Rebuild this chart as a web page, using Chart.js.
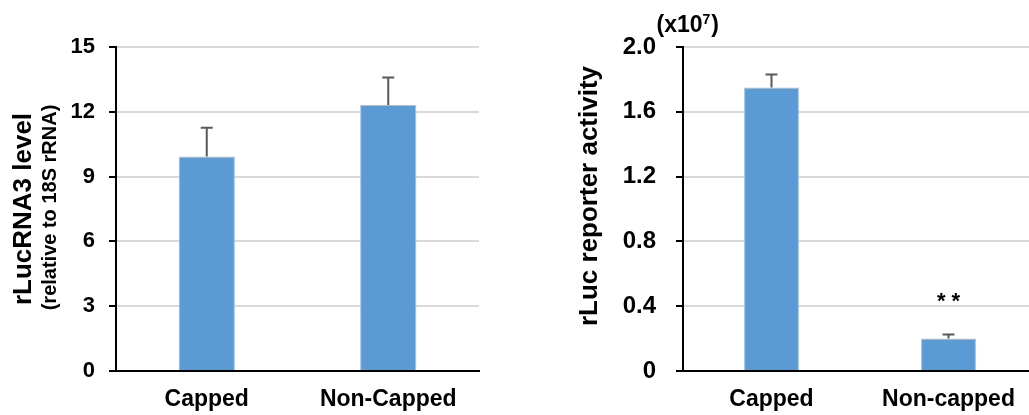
<!DOCTYPE html>
<html lang="en">
<head>
<meta charset="UTF-8">
<title>rLuc charts</title>
<script src="https://cdn.jsdelivr.net/npm/chart.js@4.4.0/dist/chart.umd.min.js"></script>
<style>
  body { margin: 0; background: #fff; }
  #wrap { position: relative; width: 1029px; height: 415px; overflow: hidden; }
  #chart1 { position: absolute; left: 0; top: 0; }
  #chart2 { position: absolute; left: 520px; top: 0; }
</style>
</head>
<body>
<div id="wrap">
  <canvas id="chart1" width="520" height="415"></canvas>
  <canvas id="chart2" width="520" height="415"></canvas>
</div>
<script>
// left panel: RNA level
const rnaLabels = ["Capped", "Non-Capped"];
const rnaValues = [9.93, 12.31];
const rnaErrors = [1.33, 1.28];
const rnaTicks = ["0", "3", "6", "9", "12", "15"];

// right panel: reporter activity (x10^7)
const lucLabels = ["Capped", "Non-capped"];
const lucValues = [1.75, 0.20];
const lucErrors = [0.08, 0.025];
const lucTicks = ["0", "0.4", "0.8", "1.2", "1.6", "2.0"];
const lucStars = ["", "* *"];

const FONT = "'Liberation Sans', Arial, sans-serif";
const barColor = "#5b9bd5";

// error bars (upper only) drawn from the y scale
const errorBars = {
  id: "errorBars",
  afterDatasetsDraw(chart, args, opts) {
    const ctx = chart.ctx;
    const y = chart.scales.y;
    const meta = chart.getDatasetMeta(0);
    const vals = chart.data.datasets[0].data;
    ctx.save();
    ctx.strokeStyle = "#595959";
    ctx.lineWidth = 2;
    meta.data.forEach((bar, i) => {
      const top = y.getPixelForValue(vals[i] + opts.errors[i]);
      ctx.beginPath();
      ctx.moveTo(bar.x, bar.y);
      ctx.lineTo(bar.x, top);
      ctx.moveTo(bar.x - 6, top);
      ctx.lineTo(bar.x + 6, top);
      ctx.stroke();
      if (opts.stars && opts.stars[i]) {
        ctx.fillStyle = "#000";
        ctx.font = "bold 22px " + FONT;
        ctx.textAlign = "center";
        ctx.textBaseline = "middle";
        ctx.fillText(opts.stars[i], bar.x, top - 33);
      }
    });
    ctx.restore();
  }
};

// extra text: y titles that need manual placement, exponent
const extraText = {
  id: "extraText",
  afterDraw(chart, args, opts) {
    const ctx = chart.ctx;
    const area = chart.chartArea;
    const midY = (area.top + area.bottom) / 2;
    ctx.save();
    ctx.fillStyle = "#000";
    ctx.textAlign = "center";
    ctx.textBaseline = "middle";
    (opts.lines || []).forEach(l => {
      ctx.save();
      ctx.translate(l.x, midY + l.dy);
      ctx.rotate(-Math.PI / 2);
      ctx.font = "bold " + l.size + "px " + FONT;
      ctx.fillText(l.text, 0, 0);
      ctx.restore();
    });
    if (opts.exponent) {
      let x = area.left - 26.5;
      const base = area.top - 15;
      ctx.textAlign = "left";
      ctx.textBaseline = "alphabetic";
      ctx.font = "bold 23px " + FONT;
      ctx.fillText("(x10", x, base);
      x += ctx.measureText("(x10").width;
      ctx.font = "bold 14px " + FONT;
      ctx.fillText(opts.exponent, x, base - 8);
      x += ctx.measureText(opts.exponent).width + 1;
      ctx.font = "bold 23px " + FONT;
      ctx.fillText(")", x, base);
    }
    ctx.restore();
  }
};

function makeChart(id, labels, values, errors, ticks, yMax, step, title, yWidth, tickPad, tickSize, padRight, extra, stars) {
  return new Chart(id, {
    type: "bar",
    data: {
      labels: labels,
      datasets: [{
        data: values,
        backgroundColor: barColor,
        borderColor: "#9dc3e6",
        borderWidth: 1,
        categoryPercentage: 1.0,
        barPercentage: 0.31
      }]
    },
    options: {
      responsive: false,
      animation: false,
      events: [],
      layout: { padding: { top: 47, right: padRight, left: 0, bottom: 0 } },
      plugins: {
        legend: { display: false },
        tooltip: { enabled: false },
        errorBars: { errors: errors, stars: stars },
        extraText: extra
      },
      scales: {
        x: {
          grid: { display: false, drawTicks: false },
          border: { display: true, color: "#000", width: 2 },
          ticks: { color: "#000", padding: 15, font: { family: FONT, size: 23, weight: "bold" } },
          afterFit(s) { s.height = 44; }
        },
        y: {
          min: 0,
          max: yMax,
          ticks: {
            stepSize: step,
            color: "#000",
            padding: tickPad,
            font: { family: FONT, size: tickSize, weight: "bold" },
            callback: (v, i) => ticks[i]
          },
          grid: { color: "#d9d9d9", lineWidth: 2, tickLength: 7, tickColor: "#000", tickWidth: 2 },
          border: { display: true, color: "#000", width: 2 },
          title: {
            display: !!title,
            text: title,
            color: "#000",
            padding: { top: 10.5, bottom: 0 },
            font: { family: FONT, size: 26, weight: "bold", lineHeight: 1 }
          },
          afterFit(s) { s.width = yWidth; }
        }
      }
    },
    plugins: [errorBars, extraText]
  });
}

makeChart("chart1", rnaLabels, rnaValues, rnaErrors, rnaTicks, 15, 3,
  "rLucRNA3 level", 116, 14, 22, 41,
  { lines: [{ text: "(relative to 18S rRNA)", x: 50, dy: -1.5, size: 20 }] }, null);

makeChart("chart2", lucLabels, lucValues, lucErrors, lucTicks, 2.0, 0.4,
  "", 163, 20, 24, 3,
  { lines: [{ text: "rLuc reporter activity", x: 69.5, dy: -13, size: 26 }], exponent: "7" }, lucStars);
</script>
</body>
</html>
